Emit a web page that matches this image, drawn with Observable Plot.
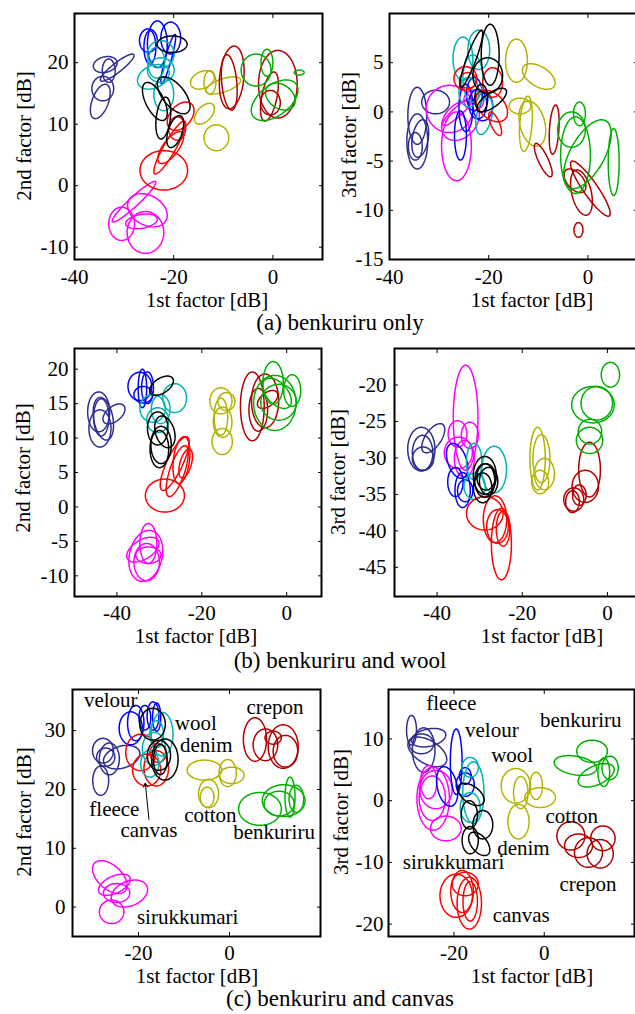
<!DOCTYPE html>
<html><head><meta charset="utf-8">
<script src="https://cdn.jsdelivr.net/npm/d3@7"></script>
<script src="https://cdn.jsdelivr.net/npm/@observablehq/plot@0.6"></script>
<style>
html,body{margin:0;padding:0;background:#fff;overflow:hidden;}
#fig{position:relative;width:635px;height:1014px;overflow:hidden;}
#fig svg{position:absolute;}
</style></head><body><div id="fig"></div>
<script>
// ---------- categories & colours ----------
const fabrics = ["fleece","velour","wool","denim","canvas","sirukkumari","cotton","crepon","benkuriru"];
const fabricColors = ["#2e2e90","#0000ff","#00b2b2","#000000","#ff0000","#ff00ff","#b3b300","#b00000","#00b000"];

// ---------- tick values ----------
const ticksX_ab = [-40,-20,0];
const ticksX_c = [-20,0];
const ticksY_a1 = [-10,0,10,20];
const ticksY_a2 = [-15,-10,-5,0,5];
const ticksY_b1 = [-10,-5,0,5,10,15,20];
const ticksY_b2 = [-45,-40,-35,-30,-25,-20];
const ticksY_c1 = [0,10,20,30];
const ticksY_c2 = [-20,-10,0,10];

// ---------- ellipses: [fabric, centre x, centre y, half-width x, half-height y, tilt correlation] ----------
const ellA1 = [
 ["fleece",-33.8,19.7,2.4,1.3,0.2],["fleece",-31.4,19.2,3.4,2.2,0.9],["fleece",-34.3,15.8,2.2,2.0,0],["fleece",-34.8,13.7,2.0,2.8,0.5],["fleece",-33.1,18.7,1.3,1.9,0],
 ["sirukkumari",-28,-2.6,4.4,3.3,0.95],["sirukkumari",-25.3,-4,4,2.7,-0.3],["sirukkumari",-30.5,-6.2,2.6,2.7,0],["sirukkumari",-25.7,-7.6,3.7,3.4,0],["sirukkumari",-26.5,-5.8,3.2,1.2,0.3],
 ["velour",-25.1,23.6,1.8,1.9,0],["velour",-23.3,23,2.0,3.8,0],["velour",-20.6,24,2.0,2.6,0],["velour",-21.1,20.6,1.5,4.0,0.9],["velour",-24.8,22.5,1.2,2.7,0],
 ["wool",-22.6,21.4,2.7,2.2,0],["wool",-24.1,17.7,3.2,2.0,0.3],["wool",-22.6,18.8,2.7,2.0,0],["wool",-22,14.9,2.0,2.7,0],["wool",-23.5,20,1.7,2.5,0],
 ["canvas",-18.6,11.3,2.7,2.3,0.4],["canvas",-19.3,9.3,1.7,1.9,0],["canvas",-20.8,6.2,3.2,4.3,0.9],["canvas",-22,2.5,4.8,3.2,0],["canvas",-20.6,6.2,2.6,2.6,0.7],
 ["denim",-20.3,23,3.0,1.35,0],["denim",-20,14.7,3.3,3.0,-0.6],["denim",-23.8,13.7,2.5,3.1,-0.6],["denim",-22.1,11,1.5,3.4,0.3],["denim",-19.7,8.8,1.7,2.6,0.5],
 ["cotton",-14.2,17.2,2.4,1.5,0.3],["cotton",-10,16.3,3.5,1.4,0.6],["cotton",-13.8,11.7,2,1.7,0.5],["cotton",-11.4,7.8,2.5,2.1,0],["cotton",-12.7,16.8,1.2,1.9,0],
 ["crepon",-8.3,17.6,2.5,5.1,0.2],["crepon",-8.8,16.8,1.6,4.5,-0.3],["crepon",1,16.5,3.9,5.5,0],["crepon",-0.7,14.5,1.8,4,0.5],["crepon",-0.5,13.5,2,2,0],
 ["benkuriru",-3.4,18.8,3,2.6,0],["benkuriru",-1.2,20,1.2,2.2,0],["benkuriru",0.35,13.9,4.7,3.3,0.5],["benkuriru",1.5,14.5,3,2.2,-0.3],["benkuriru",5.3,18.4,1,0.4,0]
];
const ellA2 = [
 ["fleece",-34.4,-0.4,1.9,2.9,0],["fleece",-34.4,-3,2.1,2.8,0],["fleece",-33.8,-2.7,1.7,1.9,0.3],["fleece",-30.7,1,2.8,1.2,0],["fleece",-34.8,-3.5,1.4,1.4,0],
 ["sirukkumari",-27.9,0.3,4.7,2.4,0],["sirukkumari",-25.7,-0.9,3.8,2,0.3],["sirukkumari",-26.5,-3.5,3,3.5,0],["sirukkumari",-26.3,0,3,1.4,0.9],["sirukkumari",-23,1.2,2,1,0],
 ["velour",-25.7,-2.4,1.2,2.5,0],["velour",-24.6,0.4,1.4,2.4,0],["velour",-22.2,0.8,1.8,1.5,0],["velour",-21.2,0.6,2,1.5,0],["velour",-22.9,1.8,1.6,1.7,0],
 ["wool",-25.2,5.4,2,2.2,0],["wool",-22,6.3,2.2,2,0],["wool",-23.2,3.4,2,2.4,0],["wool",-20.9,-0.4,1.7,1.9,0.4],["wool",-24,2,2,1.5,0],
 ["canvas",-24.7,3.4,2.3,1.2,0],["canvas",-19.4,0.6,3.2,1.6,-0.4],["canvas",-18.7,-1.2,1.3,1.2,-0.7],["canvas",-19.2,3,2,1.5,0],["canvas",-24.2,3.2,1.7,0.8,0],
 ["denim",-19.7,5.8,1.8,3.1,0],["denim",-23.5,5.4,2.3,2.9,0.9],["denim",-20.2,3.7,3,1.8,0],["denim",-19.4,1.2,3,1.2,0.7],["denim",-21.5,1.4,1.3,1.4,0],
 ["cotton",-14.4,5.2,2.2,2.2,0],["cotton",-9.9,3.6,3.3,1.3,-0.5],["cotton",-13.7,0.6,2.2,0.8,0],["cotton",-11.2,-1.2,2.7,2.3,-0.3],["cotton",-12.5,-1.2,1.3,2.8,0.3],
 ["crepon",-6.8,-1.8,1,2.5,0.3],["crepon",-9,-4.9,1.8,1.7,-0.8],["crepon",0.5,-7.8,4,2.8,-0.9],["crepon",-1.3,-8.2,2.2,2.3,-0.4],["crepon",-1.9,-12,0.9,0.75,0],["crepon",-2.6,-7,2.2,1.2,-0.5],
 ["benkuriru",-1.7,-0.2,1.2,1.2,0],["benkuriru",-3.3,-1.8,2.8,1.8,0],["benkuriru",-2.5,-4.4,3,3.9,0],["benkuriru",-0.1,-4.3,4.8,3.5,0.6],["benkuriru",5.2,-5.1,1.1,3.4,0]
];
const ellB1 = [
 ["fleece",-44.3,13.8,2.6,2.9,0],["fleece",-44,11.4,2.6,2.7,0],["fleece",-43.2,12.8,2.4,3.1,-0.3],["fleece",-40.7,13.5,2.6,1.45,0.5],["fleece",-43.7,13,1.8,2.7,0],
 ["sirukkumari",-33.2,-7.1,4,3.7,0.2],["sirukkumari",-33,-8,3,2.7,0],["sirukkumari",-33.9,-6.2,3.8,1.8,0.5],["sirukkumari",-32.6,-5.3,2,2.9,0],["sirukkumari",-32.6,-7,3,1.2,0],
 ["velour",-34.6,17.5,2.8,2.05,0],["velour",-34,17.2,1,2.8,0],["velour",-32.8,17.3,1.4,2.3,0],["velour",-33.8,16.3,2.2,1.2,0],
 ["wool",-26.4,15.8,2.8,2.1,0],["wool",-31.6,14.3,3,2,0],["wool",-29.7,14.2,2.2,2.1,0],["wool",-30.4,12.6,2.6,1.8,0],
 ["canvas",-28.7,1.65,4.6,2.4,0],["canvas",-26.4,6.3,3.4,3.9,0.8],["canvas",-24.8,6.8,2,3.4,0.3],["canvas",-25.8,5.2,2.6,3.7,0.7],["canvas",-23.8,6.3,1.6,2.1,0.5],
 ["denim",-29.5,17.6,2.8,1.4,0.5],["denim",-30.4,11.4,2.4,2.4,0],["denim",-28.7,10.9,2.4,2.3,-0.3],["denim",-29.6,9,2.4,2.7,0],["denim",-30,8.4,2.2,2.7,0],
 ["cotton",-15.5,15.4,2.6,1.9,0],["cotton",-15.1,12.3,2.2,2.2,0],["cotton",-15.2,9.5,2.4,1.9,0],["cotton",-14.2,15.3,2,1.3,0],["cotton",-15.5,13.1,1.6,2.7,0],
 ["crepon",-8.1,14.6,2.8,5,0],["crepon",-5.1,15.4,3.2,3.9,0],["crepon",-4.5,15.6,2.4,1.3,0.5],["crepon",-6.7,14.1,2.2,3.1,0],
 ["benkuriru",-3.2,18,2.4,3.1,0],["benkuriru",-2.8,15.1,5,4,0],["benkuriru",1.3,16.9,2,2.3,0],["benkuriru",-1.9,15.2,4.2,2.6,0],["benkuriru",-2.3,16.5,3.4,2.2,-0.5]
];
const ellB2 = [
 ["fleece",-43.7,-28.8,3.2,3,0],["fleece",-43.4,-29.3,2.4,2.4,0],["fleece",-40.9,-27.3,2.7,2,0.6],["fleece",-43.3,-30.1,2.5,1.6,0],
 ["sirukkumari",-33.3,-24.5,2.9,7.2,0],["sirukkumari",-35.2,-26.7,2.2,1.8,0],["sirukkumari",-32.3,-26.9,2,1.8,0],["sirukkumari",-35,-29.3,3.3,2.15,0],["sirukkumari",-33.6,-30.1,2.35,2.5,0],
 ["velour",-35.3,-30.4,2.5,2.4,-0.4],["velour",-35.7,-33.3,1.8,2,0],["velour",-34,-34.4,1.8,2.4,0],["velour",-33.4,-34.5,1.8,1.5,0],
 ["wool",-26.6,-31.6,2.9,3.2,0],["wool",-31.3,-30.5,1.8,2.5,0],["wool",-31.2,-33.9,2.5,1.8,0],
 ["canvas",-28.8,-37.6,4.3,2.3,0],["canvas",-26.4,-38.4,2.75,3.2,0],["canvas",-24.9,-41.8,2.35,4.9,0],["canvas",-25.8,-39.4,2.55,2.3,0],["canvas",-24.5,-39.7,1.6,2.4,0],
 ["denim",-28.8,-32.4,2.7,2.6,0],["denim",-28.8,-33.1,2.35,2.3,0],["denim",-27.9,-33.2,2.15,1.9,0],["denim",-29.3,-34.1,2.15,2.05,0],["denim",-28.5,-32.6,2.15,1.8,0],
 ["cotton",-16.4,-30.1,1.8,4.3,0],["cotton",-15.5,-30.1,2,3.3,0],["cotton",-14.8,-32.2,2.35,2.15,0],["cotton",-15.8,-33.3,2,1.6,0],
 ["crepon",-4.2,-31.6,2.55,3.75,0],["crepon",-5.2,-33.9,3.1,2.2,0],["crepon",-7.9,-35.7,2.35,1.6,0],["crepon",-8.2,-36,1.6,1.5,0],["crepon",-6.6,-35.1,1.6,1.4,0],
 ["benkuriru",0.7,-18.6,2.15,1.7,0],["benkuriru",-3.4,-22.7,5,2.5,0],["benkuriru",-2.5,-22.5,3.7,2.3,0],["benkuriru",-4.1,-26.4,2.75,1.7,0],["benkuriru",-4.2,-27.6,3.1,1.8,0]
];
const ellC1 = [
 ["fleece",-23.7,25.5,4,2,0.3],["fleece",-27.8,26.6,2.3,2.1,0],["fleece",-28.3,21.5,1.75,2.5,0],["fleece",-27.2,25.5,2,1.55,0],["fleece",-26.4,25.2,2.2,2.7,0],
 ["sirukkumari",-26.3,5.1,3.8,2.8,-0.5],["sirukkumari",-25.3,3.8,3.5,1.8,0.5],["sirukkumari",-22,2.3,4,2.3,0.3],["sirukkumari",-24.8,2.4,2.9,1.6,0],["sirukkumari",-25.9,-0.8,2.7,2,0],
 ["velour",-20.6,31.3,1.8,3,0],["velour",-18.6,32.2,1.3,2.1,0],["velour",-16.8,32.5,1.3,2.4,0],["velour",-21.7,30.4,2.55,2.8,0],["velour",-16,32.3,0.9,2.4,0],
 ["canvas",-19.5,26.3,3.3,3.1,0],["canvas",-18.2,23.3,3.1,2.7,0],["canvas",-16.1,23.6,2.7,3,0],["canvas",-15.7,26.2,1.8,1.6,0],
 ["wool",-14.8,29.4,2.4,3.7,0],["wool",-16.6,26.9,2.55,2.8,0],["wool",-17.5,24.4,2,2.3,0],["wool",-16,29.4,1.5,2.3,0],
 ["denim",-16.9,31.1,2.8,2.7,0],["denim",-14.2,25.1,2.9,3.5,0],["denim",-15.5,25.8,2.55,2.55,0],["denim",-15.2,25.1,1.5,2.55,0],
 ["cotton",-5.5,23.3,3.8,1.7,0],["cotton",-0.4,22.8,1.9,2.3,0],["cotton",0.5,22.4,2.7,1.4,0],["cotton",-4.6,19.3,2.2,2.4,0],["cotton",-4.9,18.7,1.5,1.7,0],
 ["crepon",5.6,28.5,2.55,3.7,0],["crepon",7.9,27.6,2.7,2.7,0],["crepon",11.8,27.3,3.3,3.7,0],["crepon",12.3,26.5,2.7,2.7,0],["crepon",9.6,28.8,1.8,1.1,0],
 ["benkuriru",6.7,16.7,4.7,2.8,0],["benkuriru",11.9,18.1,4.7,2.7,0],["benkuriru",10.9,17.6,3.3,2.1,0],["benkuriru",13.3,18.7,1.1,3.4,0],["benkuriru",14.7,18.4,1.6,2.3,0]
];
const ellC2 = [
 ["fleece",-29.4,11.4,1.1,2.4,0],["fleece",-25.9,7.9,4.3,2.4,-0.5],["fleece",-25.6,10.2,3.8,1.5,0.3],["fleece",-26.7,8.2,2.5,3.6,0],["fleece",-27.2,9.2,2.7,1.6,0],
 ["sirukkumari",-24.6,0.3,3.6,5.1,0],["sirukkumari",-24,1.8,3.6,3.1,0],["sirukkumari",-24.8,0.4,2.9,3.6,0],["sirukkumari",-25.6,3,1.8,2.7,0],["sirukkumari",-21.8,-4.5,3.4,2,0],
 ["velour",-19.5,6.3,1.3,5.3,0],["velour",-21.5,2.3,2.35,3.2,-0.3],["velour",-17.5,2.6,2,1.9,0],["velour",-17.5,4,1.3,1.35,0],
 ["wool",-15.7,1.3,2.35,5,0],["wool",-16.4,-1.1,2.2,2.4,0],["wool",-16.4,5.4,1.8,1.6,0],
 ["denim",-16.2,1,2.9,1.8,-0.5],["denim",-16.6,-2.3,1.8,2.3,0],["denim",-13.6,-3.9,2.2,2.3,0],["denim",-16.4,-6.4,1.8,2.2,0],["denim",-14.4,-7,2.35,1.9,-0.5],
 ["cotton",-6.3,2.4,3.25,2.8,0],["cotton",-5.7,-3.4,2.35,2.8,0],["cotton",-1.8,2.4,1.4,2.2,0],["cotton",-0.9,0.5,3.4,1.6,0],["cotton",-5.2,1.3,1.6,2.6,0],
 ["crepon",5.9,-5.7,3.1,2.3,0],["crepon",7.6,-7.3,3.1,1.9,0],["crepon",9.8,-8.4,3.1,2.4,0],["crepon",13,-6.1,2.7,2,0],["crepon",12.4,-8.6,2.9,2.3,0],
 ["benkuriru",6.9,5.7,4.7,1.6,-0.3],["benkuriru",10.6,8,3.4,1.8,0],["benkuriru",11.5,4.1,4,1.9,0.5],["benkuriru",13.2,4.6,1.3,2.3,0],["benkuriru",14.6,5.3,1.8,1.9,0],
 ["canvas",-19.5,-15.4,3.6,3.5,0],["canvas",-18.2,-14.7,2.5,3.4,0],["canvas",-16.6,-16.6,2.7,4.2,0],["canvas",-17.5,-13.5,2.9,1.9,0],["canvas",-16.4,-16.3,1.6,3.2,0]
];

// ---------- in-plot labels (panel c) ----------
const labelsC1 = [["velour",-26.1,35.1],["wool",-7.4,31.3],["denim",-5.1,27.5],["crepon",10,34],["fleece",-25.3,16.6],["canvas",-17.7,13.0],["cotton",-4.2,15.6],["benkuriru",9.8,12.7],["sirukkumari",-9.2,-1.7]];
const labelsC2 = [["fleece",-20.6,15.7],["velour",-11.6,11.4],["benkuriru",8.1,13],["wool",-7.1,7.3],["cotton",6.1,-2.6],["denim",-4.6,-7.7],["sirukkumari",-20.1,-10],["crepon",9.7,-13.6],["canvas",-5.1,-18.6]];
const arrowC1 = [{x1:-17.7,y1:14.9,x2:-18.5,y2:21.1}];

// ---------- text ----------
const captions = ["(a) benkuriru only","(b) benkuriru and wool","(c) benkuriru and canvas"];
const xTitle = "1st factor [dB]";
const yTitles = ["2nd factor [dB]","3rd factor [dB]"];

// ---------- layout ----------
const FONT = "'Liberation Serif','Times New Roman',serif";
const panels = [
 {frame:[74,13,322,259], xd:[-40,10], yd:[-12,28], xt:ticksX_ab, yt:ticksY_a1, ell:ellA1, xpad:10, ypad:6},
 {frame:[389,13,637,259], xd:[-40,10], yd:[-15,10], xt:ticksX_ab, yt:ticksY_a2, ell:ellA2, xpad:10, ypad:6},
 {frame:[74,348,321,596], xd:[-50,8.2], yd:[-13,23], xt:ticksX_ab, yt:ticksY_b1, ell:ellB1, xpad:9, ypad:6},
 {frame:[394,348,641,596], xd:[-50,8], yd:[-49,-15], xt:ticksX_ab, yt:ticksY_b2, ell:ellB2, xpad:9, ypad:8},
 {frame:[72,689,320,936], xd:[-34.5,20], yd:[-5,37], xt:ticksX_c, yt:ticksY_c1, ell:ellC1, xpad:9, ypad:7, labels:labelsC1, arrow:arrowC1},
 {frame:[388,689,634,936], xd:[-34.5,20], yd:[-22,18], xt:ticksX_c, yt:ticksY_c2, ell:ellC2, xpad:9, ypad:5, labels:labelsC2}
];

function outline(ell) {
  const rows = [];
  ell.forEach(([f,cx,cy,sx,sy,r],i) => {
    const q = Math.sqrt(1 - r*r);
    for (let k = 0; k <= 90; k++) {
      const t = 2*Math.PI*k/90;
      rows.push({id:i, fabric:f, x: cx + sx*Math.cos(t), y: cy + sy*(r*Math.cos(t) + q*Math.sin(t))});
    }
  });
  return rows;
}

const fig = document.getElementById("fig");
const mL = 70, mT = 8, mR = 8, mB = 40;
panels.forEach(p => {
  const [L,T,R,B] = p.frame;
  const marks = [
    Plot.line(outline(p.ell), {x:"x", y:"y", z:"id", stroke:"fabric", strokeWidth:1.5, clip:true}),
    Plot.axisX({anchor:"bottom", ticks:p.xt, tickSize:0, tickPadding:p.xpad, tickFormat:d=>String(d), label:null}),
    Plot.axisX({anchor:"bottom", ticks:p.xt, tickSize:-4, tickFormat:()=>"", label:null}),
    Plot.axisX({anchor:"top", ticks:p.xt, tickSize:-4, tickFormat:()=>"", label:null}),
    Plot.axisY({anchor:"left", ticks:p.yt, tickSize:0, tickPadding:p.ypad, tickFormat:d=>String(d), label:null}),
    Plot.axisY({anchor:"left", ticks:p.yt, tickSize:-4, tickFormat:()=>"", label:null}),
    Plot.axisY({anchor:"right", ticks:p.yt, tickSize:-4, tickFormat:()=>"", label:null}),
    Plot.frame({stroke:"#000", strokeWidth:2})
  ];
  if (p.labels) marks.push(Plot.text(p.labels, {x:d=>d[1], y:d=>d[2], text:d=>d[0], fontSize:21, fill:"#000", textAnchor:"middle"}));
  if (p.arrow) marks.push(Plot.arrow(p.arrow, {x1:"x1", y1:"y1", x2:"x2", y2:"y2", stroke:"#000", strokeWidth:1, headLength:7}));
  const svg = Plot.plot({
    width: (R-L)+mL+mR, height: (B-T)+mT+mB,
    marginLeft:mL, marginTop:mT, marginRight:mR, marginBottom:mB,
    x:{domain:p.xd, label:null}, y:{domain:p.yd, label:null},
    color:{domain:fabrics, range:fabricColors},
    style:{background:"none", fontFamily:FONT, fontSize:"21px", overflow:"visible", color:"#000"},
    marks
  });
  svg.style.left = (L-mL)+"px";
  svg.style.top = (T-mT)+"px";
  svg.style.maxWidth = "none";
  fig.appendChild(svg);
});

// ---------- titles overlay ----------
const NS = "http://www.w3.org/2000/svg";
const ov = document.createElementNS(NS,"svg");
ov.setAttribute("width",635); ov.setAttribute("height",1014);
ov.style.left="0px"; ov.style.top="0px"; ov.style.pointerEvents="none";
function txt(s,x,y,size,rot){
  const t = document.createElementNS(NS,"text");
  t.textContent = s;
  t.setAttribute("font-family",FONT); t.setAttribute("font-size",size);
  t.setAttribute("text-anchor","middle");
  if (rot) { t.setAttribute("transform",`translate(${x},${y}) rotate(-90)`); t.setAttribute("dominant-baseline","central"); }
  else { t.setAttribute("x",x); t.setAttribute("y",y); }
  ov.appendChild(t);
}
const xTitlePos = [[207,307],[532,307],[196,643],[542,643],[197,983],[532,983]];
xTitlePos.forEach(([x,y]) => txt(xTitle,x,y,21));
const yTitlePos = [[24,136,0],[349,135,1],[23,468,0],[338,472,1],[24,812,0],[341,812,1]];
yTitlePos.forEach(([x,y,k]) => txt(yTitles[k],x,y,21,true));
const capPos = [[340,330],[340,668],[340,1006]];
capPos.forEach(([x,y],i) => txt(captions[i],x,y,23));
fig.appendChild(ov);
</script></body></html>
